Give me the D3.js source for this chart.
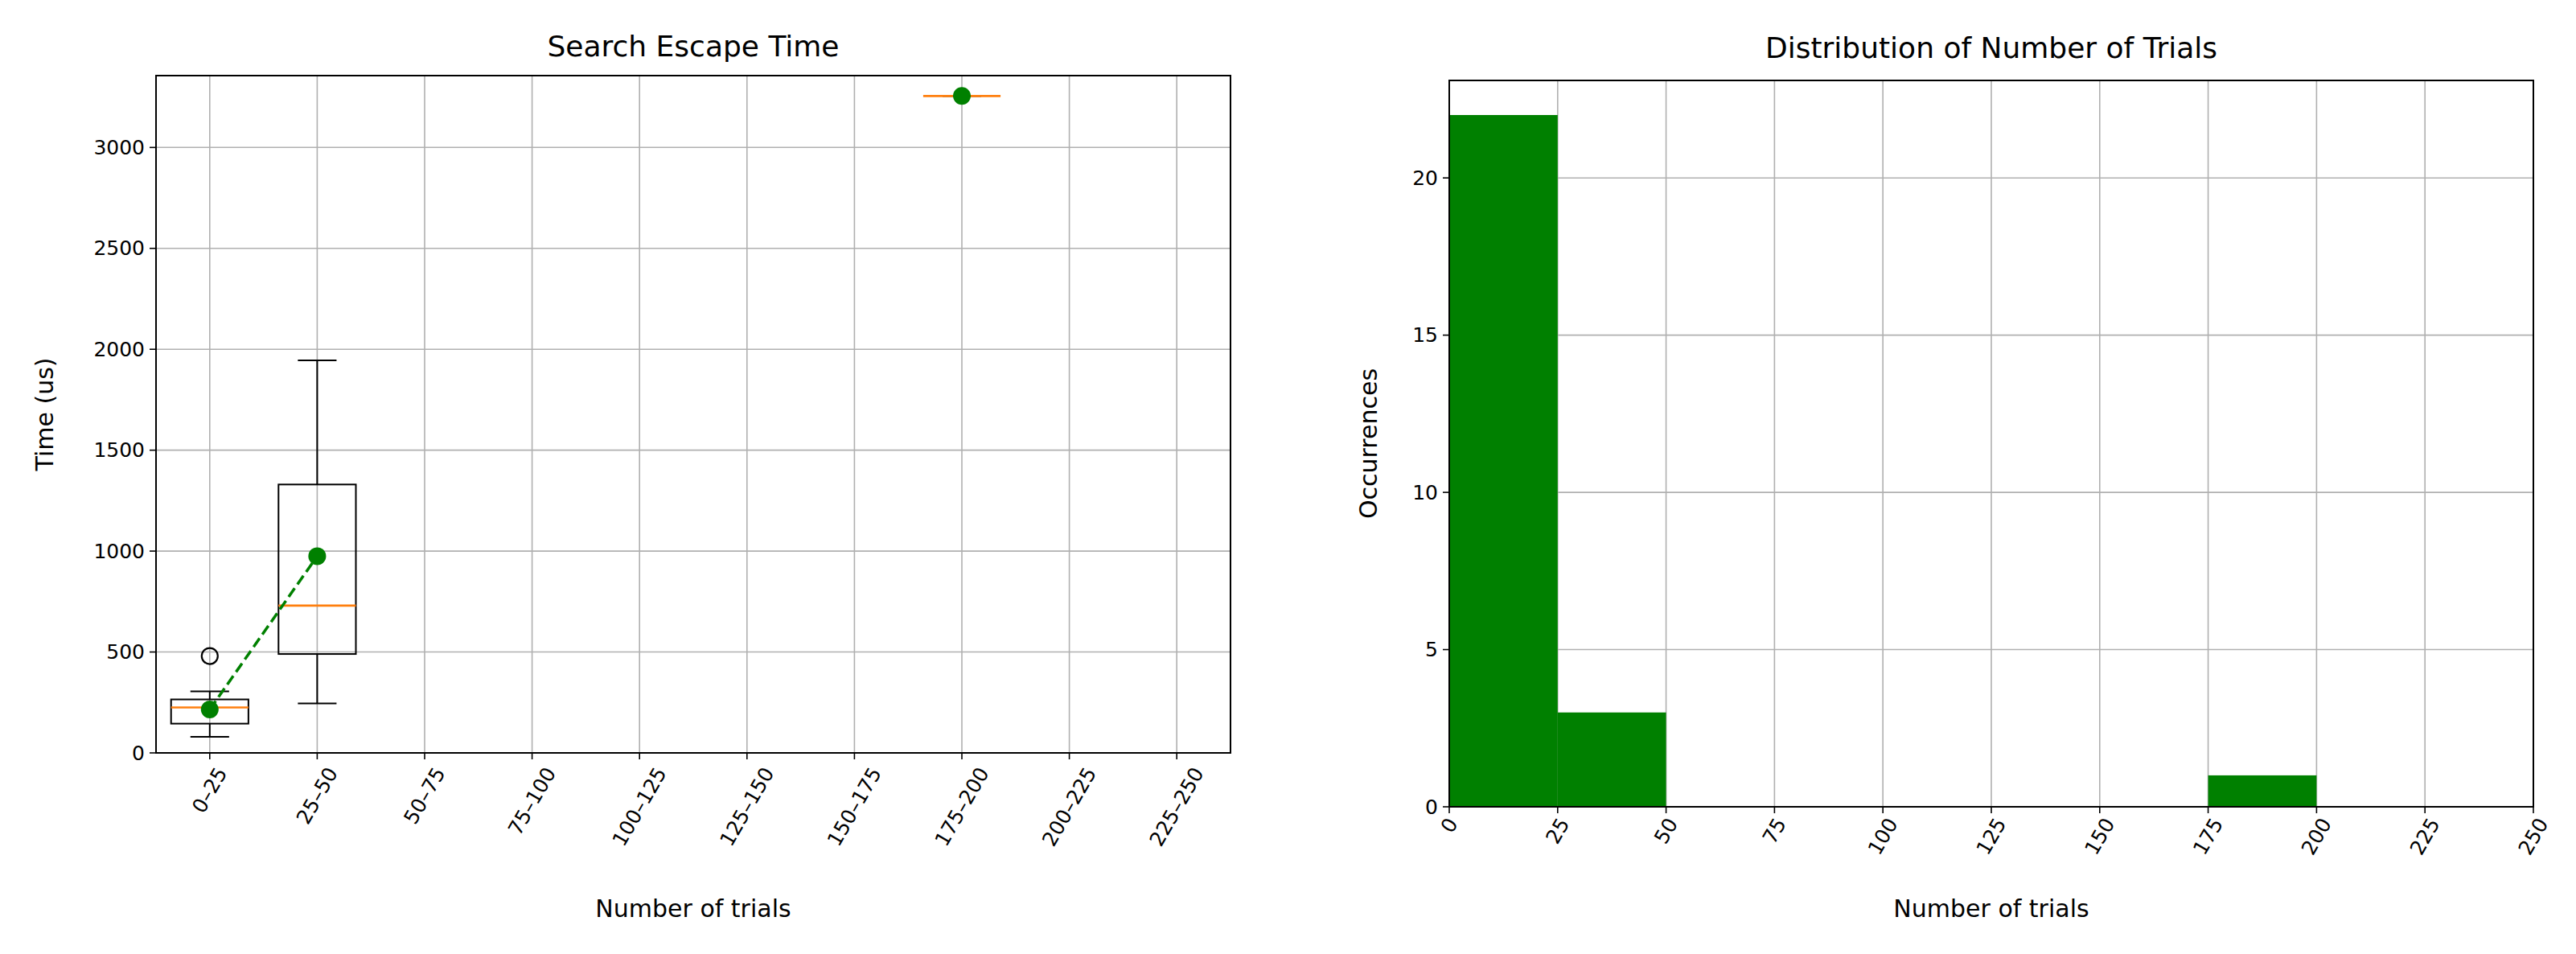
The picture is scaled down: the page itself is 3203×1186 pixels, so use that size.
<!DOCTYPE html>
<html>
<head>
<meta charset="utf-8">
<script src="https://cdn.jsdelivr.net/npm/d3@7"></script>
<style>
  body { margin: 0; background: #fff; }
  text { font-family: "DejaVu Sans", sans-serif; fill: #000; }
</style>
</head>
<body>
<div id="vis"></div>
<script>
// Data
const BINS = ["0–25", "25–50", "50–75", "75–100", "100–125", "125–150",
              "150–175", "175–200", "200–225", "225–250"];
// box stats per bin: [whiskerLow, q1, median, q3, whiskerHigh], null = empty
const BOX_STATS = [[80, 145, 225, 265, 305], [245, 490, 730, 1330, 1945],
                   null, null, null, null, null,
                   [3255, 3255, 3255, 3255, 3255], null, null];
const OUTLIERS = [[480], [], [], [], [], [], [], [], [], []];
const MEANS = [215, 975, null, null, null, null, null, 3255, null, null];
const TIME_TICKS = [0, 500, 1000, 1500, 2000, 2500, 3000];

const HIST_EDGES = [0, 25, 50, 75, 100, 125, 150, 175, 200, 225, 250];
const HIST_COUNTS = [22, 3, 0, 0, 0, 0, 0, 1, 0, 0];
const COUNT_TICKS = [0, 5, 10, 15, 20];

const FRAME_WIDTH = 3203;
const FRAME_HEIGHT = 1186;
const FS = 25;      // tick labels
const FS_LAB = 30;  // axis labels
const FS_TIT = 36;  // titles

const SVG = d3.select("#vis").append("svg")
  .attr("width", FRAME_WIDTH).attr("height", FRAME_HEIGHT);

// rotated x tick labels, centred on the tick like matplotlib rotation=60
function rotatedLabels(g, xs, labels, y0) {
  labels.forEach((lab, i) => {
    const t = g.append("text").attr("font-size", FS).text(lab)
      .attr("text-anchor", "middle").attr("dominant-baseline", "central");
    const len = t.node().getComputedTextLength();
    const h = len * Math.sin(Math.PI / 3) + FS * 0.5;
    t.attr("transform", "translate(" + xs[i] + "," + (y0 + h / 2) + ") rotate(-60)");
  });
}

function frame(g, L, R, T, B) {
  g.append("rect").attr("x", L).attr("y", T).attr("width", R - L).attr("height", B - T)
    .attr("fill", "none").attr("stroke", "#000").attr("stroke-width", 2);
}

// ---------------- left: box plot ----------------
{
  const L = 194, R = 1530, T = 94, B = 936;
  const G = SVG.append("g");
  const X = d3.scaleLinear().domain([0.5, 10.5]).range([L, R]);
  const Y = d3.scaleLinear().domain([0, 3356]).range([B, T]);
  const pos = BINS.map((d, i) => i + 1);

  // grid
  G.selectAll(".gx").data(pos).enter().append("line")
    .attr("x1", d => X(d)).attr("x2", d => X(d)).attr("y1", T).attr("y2", B)
    .attr("stroke", "#b0b0b0").attr("stroke-width", 1.6);
  G.selectAll(".gy").data(TIME_TICKS).enter().append("line")
    .attr("x1", L).attr("x2", R).attr("y1", d => Y(d)).attr("y2", d => Y(d))
    .attr("stroke", "#b0b0b0").attr("stroke-width", 1.6);

  // boxes
  BOX_STATS.forEach((s, i) => {
    if (!s) return;
    const c = X(i + 1), hw = (X(1.36) - X(1)), cw = (X(1.18) - X(1));
    const bx = G.append("g").attr("stroke", "#000").attr("stroke-width", 2).attr("fill", "none");
    bx.append("line").attr("x1", c).attr("x2", c).attr("y1", Y(s[0])).attr("y2", Y(s[1]));
    bx.append("line").attr("x1", c).attr("x2", c).attr("y1", Y(s[3])).attr("y2", Y(s[4]));
    bx.append("line").attr("x1", c - cw).attr("x2", c + cw).attr("y1", Y(s[0])).attr("y2", Y(s[0]));
    bx.append("line").attr("x1", c - cw).attr("x2", c + cw).attr("y1", Y(s[4])).attr("y2", Y(s[4]));
    bx.append("rect").attr("x", c - hw).attr("width", 2 * hw)
      .attr("y", Y(s[3])).attr("height", Math.max(0, Y(s[1]) - Y(s[3])));
    G.append("line").attr("x1", c - hw).attr("x2", c + hw).attr("y1", Y(s[2])).attr("y2", Y(s[2]))
      .attr("stroke", "#ff7f0e").attr("stroke-width", 2.6);
    OUTLIERS[i].forEach(o => {
      G.append("circle").attr("cx", c).attr("cy", Y(o)).attr("r", 10)
        .attr("fill", "none").attr("stroke", "#000").attr("stroke-width", 2.2);
    });
  });

  // means
  const meanPts = MEANS.map((m, i) => ({ x: i + 1, y: m }));
  G.append("path").datum(meanPts)
    .attr("d", d3.line().defined(d => d.y !== null).x(d => X(d.x)).y(d => Y(d.y)))
    .attr("fill", "none").attr("stroke", "green").attr("stroke-width", 3.5)
    .attr("stroke-dasharray", "13,6");
  G.selectAll(".mean").data(meanPts.filter(d => d.y !== null)).enter().append("circle")
    .attr("cx", d => X(d.x)).attr("cy", d => Y(d.y)).attr("r", 11).attr("fill", "green");

  frame(G, L, R, T, B);

  // ticks
  G.selectAll(".ty").data(TIME_TICKS).enter().append("line")
    .attr("x1", L - 8).attr("x2", L).attr("y1", d => Y(d)).attr("y2", d => Y(d)).attr("stroke", "#000").attr("stroke-width", 1.6);
  G.selectAll(".tyl").data(TIME_TICKS).enter().append("text")
    .attr("x", L - 14).attr("y", d => Y(d)).attr("font-size", FS)
    .attr("text-anchor", "end").attr("dominant-baseline", "central").text(d => d);
  G.selectAll(".tx").data(pos).enter().append("line")
    .attr("x1", d => X(d)).attr("x2", d => X(d)).attr("y1", B).attr("y2", B + 8).attr("stroke", "#000").attr("stroke-width", 1.6);
  rotatedLabels(G, pos.map(X), BINS, B + 14);

  G.append("text").attr("x", (L + R) / 2).attr("y", T - 24).attr("font-size", FS_TIT)
    .attr("text-anchor", "middle").text("Search Escape Time");
  G.append("text").attr("x", (L + R) / 2).attr("y", 1140).attr("font-size", FS_LAB)
    .attr("text-anchor", "middle").text("Number of trials");
  G.append("text").attr("transform", "translate(66," + (T + B) / 2 + ") rotate(-90)")
    .attr("font-size", FS_LAB).attr("text-anchor", "middle").text("Time (us)");
}

// ---------------- right: histogram ----------------
{
  const L = 1802, R = 3150, T = 100, B = 1003;
  const G = SVG.append("g");
  const X = d3.scaleLinear().domain([0, 250]).range([L, R]);
  const Y = d3.scaleLinear().domain([0, 23.1]).range([B, T]);
  const xt = HIST_EDGES;

  G.selectAll(".gx").data(xt).enter().append("line")
    .attr("x1", d => X(d)).attr("x2", d => X(d)).attr("y1", T).attr("y2", B)
    .attr("stroke", "#b0b0b0").attr("stroke-width", 1.6);
  G.selectAll(".gy").data(COUNT_TICKS).enter().append("line")
    .attr("x1", L).attr("x2", R).attr("y1", d => Y(d)).attr("y2", d => Y(d))
    .attr("stroke", "#b0b0b0").attr("stroke-width", 1.6);

  G.selectAll(".bar").data(HIST_COUNTS).enter().append("rect")
    .attr("x", (d, i) => X(HIST_EDGES[i])).attr("width", (d, i) => X(HIST_EDGES[i + 1]) - X(HIST_EDGES[i]))
    .attr("y", d => Y(d)).attr("height", d => B - Y(d)).attr("fill", "green");

  frame(G, L, R, T, B);

  G.selectAll(".ty").data(COUNT_TICKS).enter().append("line")
    .attr("x1", L - 8).attr("x2", L).attr("y1", d => Y(d)).attr("y2", d => Y(d)).attr("stroke", "#000").attr("stroke-width", 1.6);
  G.selectAll(".tyl").data(COUNT_TICKS).enter().append("text")
    .attr("x", L - 14).attr("y", d => Y(d)).attr("font-size", FS)
    .attr("text-anchor", "end").attr("dominant-baseline", "central").text(d => d);
  G.selectAll(".tx").data(xt).enter().append("line")
    .attr("x1", d => X(d)).attr("x2", d => X(d)).attr("y1", B).attr("y2", B + 8).attr("stroke", "#000").attr("stroke-width", 1.6);
  rotatedLabels(G, xt.map(X), xt.map(String), B + 10);

  G.append("text").attr("x", (L + R) / 2).attr("y", T - 28).attr("font-size", FS_TIT)
    .attr("text-anchor", "middle").text("Distribution of Number of Trials");
  G.append("text").attr("x", (L + R) / 2).attr("y", 1140).attr("font-size", FS_LAB)
    .attr("text-anchor", "middle").text("Number of trials");
  G.append("text").attr("transform", "translate(1712," + (T + B) / 2 + ") rotate(-90)")
    .attr("font-size", FS_LAB).attr("text-anchor", "middle").text("Occurrences");
}
</script>
</body>
</html>
